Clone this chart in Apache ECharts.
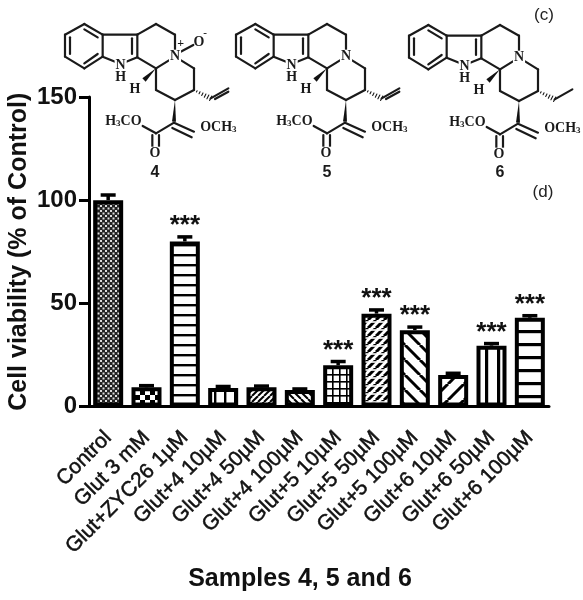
<!DOCTYPE html>
<html><head><meta charset="utf-8">
<style>html,body{margin:0;padding:0;background:#fff}#c{width:583px;height:600px;filter:blur(0.4px)}</style>
<script src="https://cdn.jsdelivr.net/npm/echarts@6/dist/echarts.min.js"></script>
</head><body><div id="c"></div>
<script>
const categories = ['Control','Glut 3 mM','Glut+ZYC26 1µM','Glut+4 10µM','Glut+4 50µM','Glut+4 100µM','Glut+5 10µM','Glut+5 50µM','Glut+5 100µM','Glut+6 10µM','Glut+6 50µM','Glut+6 100µM'];
const viability = [100, 9.3, 80, 9, 9.3, 8, 20, 45, 37, 15.3, 29.5, 43];
const errors = [2.5, 0.8, 2.2, 0.7, 0.6, 0.5, 1.8, 1.8, 1.5, 0.8, 1, 1];
const significance = ['', '', '***', '', '', '', '***', '***', '***', '', '***', '***'];
const patternNames = ['fine','coarse','hLines','vLines','diagA','diagB','grid','diagDash','wideB','wideA','vWide','hWide'];
const compoundNames = ['4','5','6'];
const yTitle = 'Cell viability (% of Control)';
const xTitle = 'Samples 4, 5 and 6';

function tile(w, h, draw){
  const c = document.createElement('canvas'); c.width = w; c.height = h;
  const g = c.getContext('2d'); g.fillStyle = '#fff'; g.fillRect(0,0,w,h);
  g.strokeStyle = '#000'; g.fillStyle = '#000'; draw(g,w,h); return {image:c, repeat:'repeat'};
}
function diag(s, lw, back){
  return tile(s, s, g => { g.lineWidth = lw;
    for (let k=-1;k<=1;k++){ g.beginPath();
      if(back){g.moveTo(k*s,0);g.lineTo(k*s+s,s);} else {g.moveTo(k*s,s);g.lineTo(k*s+s,0);}
      g.stroke(); } });
}
const patterns = {
  fine: tile(5,5,(g)=>{g.fillStyle='#222';g.fillRect(0,0,5,5);g.fillStyle='#ddd';g.fillRect(0,0,2,2);g.fillRect(2.5,2.5,2,2);}),
  coarse: tile(10,10,(g)=>{g.fillRect(0,0,5,5);g.fillRect(5,5,5,5);}),
  hLines: tile(10,10,(g)=>{g.fillRect(0,4,10,2.4);}),
  vLines: tile(10,10,(g)=>{g.fillRect(4,0,2.4,10);}),
  diagA: diag(6,2,false),
  diagB: diag(7,2,true),
  grid: tile(7,7,(g)=>{g.fillRect(3,0,1.6,7);g.fillRect(0,3,7,1.6);}),
  diagDash: tile(8,8,(g)=>{g.lineWidth=3;for(let k=-1;k<=1;k++){g.beginPath();g.moveTo(k*8,8);g.lineTo(k*8+8,0);g.stroke();}
     g.strokeStyle='#fff';g.lineWidth=1.6;g.beginPath();g.moveTo(0,2);g.lineTo(8,2);g.stroke();}),
  wideB: diag(15,3,true),
  wideA: diag(16,3,false),
  vWide: tile(12,12,(g)=>{g.fillRect(5,0,3.2,12);}),
  hWide: tile(13,13,(g)=>{g.fillRect(0,5,13,3.2);})
};

const P = {a:[103,72],b:[158,104],c:[158,170],d:[103,205],e:[45,170],f:[45,104],
  c3:[262,104],c2:[262,172],n1:[212,192],g:[318,72],h:[375,104],n:[375,170],i:[318,205],
  j:[432,205],k:[432,270],l:[375,300],m:[318,270],v1:[482,295],v2:[535,265],
  s:[372,368],t:[318,400],u:[278,378],w:[432,395]};
const bonds = [['a','b'],['b','c'],['c','d'],['d','e'],['e','f'],['f','a'],['b','c3'],['c3','c2'],['c3','g'],['g','h'],['h','n'],
  ['n','i'],['i','c2'],['n','j'],['j','k'],['k','l'],['l','m'],['m','i'],['s','t'],['t','u'],['s','w'],['c','n1'],['n1','c2']];
function structure(ox, oy, kind){
  const out = [];
  const X = x => ox + x/3, Y = y => oy + y/3;
  const seg = (x1,y1,x2,y2,w=2.2) => out.push({type:'line',silent:true,shape:{x1:X(x1),y1:Y(y1),x2:X(x2),y2:Y(y2)},style:{stroke:'#1a1a1a',lineWidth:w,lineCap:'round'}});
  const txt = (x,y,t,size=14,bg) => out.push({type:'text',silent:true,x:X(x),y:Y(y),style:{text:t,fill:'#1a1a1a',align:'center',verticalAlign:'middle',backgroundColor:bg,padding:bg?[0,1,0,1]:0,
     font:'bold '+size+'px "Liberation Serif"',rich:{a:{font:'bold '+size+'px "Liberation Serif"',fill:'#1a1a1a'},s:{font:'bold 9px "Liberation Serif"',fill:'#1a1a1a',padding:[5,0,0,0]}}}});
  const wedge = (x1,y1,x2,y2,hw=7) => { const dx=x2-x1,dy=y2-y1,L=Math.hypot(dx,dy),nx=-dy/L*hw,ny=dx/L*hw;
    out.push({type:'polygon',silent:true,shape:{points:[[X(x1),Y(y1)],[X(x2+nx),Y(y2+ny)],[X(x2-nx),Y(y2-ny)]]},style:{fill:'#111'}}); };
  bonds.forEach(b => seg(P[b[0]][0],P[b[0]][1],P[b[1]][0],P[b[1]][1]));
  seg(60,112,60,162); seg(103,88,143,112); seg(103,190,143,162); seg(246,115,246,162);
  seg(367,384,425,412); seg(307,405,307,440); seg(327,405,327,440);
  wedge(318,205,282,240); wedge(375,300,372,365,6);
  for(let i=1;i<=6;i++){ const f=i/6, x=432+(482-432)*f, y=270+(295-270)*f; const hw=1.5+f*8;
    seg(x-hw*0.35,y+hw*0.7,x+hw*0.35,y-hw*0.7,1.1); }
  seg(482,295,535,265);
  if(kind!=='ethyl') seg(495,297,535,275);
  txt(212,197,'N',14,'#fff'); txt(212,232,'H'); txt(255,268,'H');
  txt(220,364,'{a|H}{s|3}{a|CO}'); txt(505,381,'{a|OCH}{s|3}');
  txt(315,461,'O',14,'#fff');
  if(kind==='oxide'){ seg(392,155,430,135); txt(447,127,'O'); txt(392,133,'+',12); txt(465,100,'-',11); }
  txt(375,170,'N',14,'#fff');
  return out;
}
const structures = [].concat(
  structure(50,0,'oxide'), structure(221,0,'vinyl'), structure(394,1,'ethyl')
);
compoundNames.forEach((n,i)=>structures.push({type:'text',silent:true,x:[155,327,500][i],y:173,
  style:{text:n,font:'bold 16px "Liberation Sans"',fill:'#1a1a1a',align:'center',verticalAlign:'middle'}}));
[['(c)',544,15],['(d)',543,192]].forEach(t=>structures.push({type:'text',silent:true,x:t[1],y:t[2],
  style:{text:t[0],font:'17px "Liberation Sans"',fill:'#222',align:'center',verticalAlign:'middle'}}));

const chart = echarts.init(document.getElementById('c'), null, {renderer:'canvas'});
const axisText = {color:'#111',fontFamily:'Liberation Sans'};
chart.setOption({
  animation:false,
  backgroundColor:'#fff',
  grid:{left:89,right:34,top:97,bottom:193.5,containLabel:false,outerBoundsMode:'none'},
  graphic:structures,
  xAxis:{type:'category',data:categories,
    axisLine:{lineStyle:{color:'#000',width:3}},
    axisTick:{alignWithLabel:true,length:10,lineStyle:{color:'#000',width:3}},
    axisLabel:{...axisText,fontSize:21,rotate:45,margin:28,interval:0,textBorderColor:'#111',textBorderWidth:0.5},
    name:xTitle,nameLocation:'middle',nameGap:160,nameMoveOverlap:false,
    nameTextStyle:{...axisText,fontSize:25,fontWeight:'bold',padding:[0,38,0,0]}},
  yAxis:{type:'value',min:0,max:150,interval:50,splitLine:{show:false},
    axisLine:{show:true,lineStyle:{color:'#000',width:3}},
    axisTick:{show:true,length:10,lineStyle:{color:'#000',width:3}},
    axisLabel:{...axisText,fontSize:24,fontWeight:'bold',margin:12},
    name:yTitle,nameLocation:'middle',nameGap:57,nameMoveOverlap:false,
    nameTextStyle:{...axisText,fontSize:25,fontWeight:'bold'}},
  series:[
    {type:'bar',barWidth:30,silent:true,
     data:viability.map((v,i)=>({value:v,itemStyle:{color:patterns[patternNames[i]],borderColor:'#000',borderWidth:4}}))},
    {type:'custom',silent:true,z:5,
     data:viability.map((v,i)=>[i,v,errors[i],significance[i]]),
     encode:{x:0,y:1},
     renderItem:(params,api)=>{
       const i=api.value(0), v=api.value(1), e=api.value(2), star=significance[i];
       const base=api.coord([i,v]), top=api.coord([i,v+e]);
       const line={stroke:'#000',lineWidth:3.5};
       const kids=[
         {type:'line',shape:{x1:base[0],y1:base[1],x2:top[0],y2:top[1]},style:line},
         {type:'line',shape:{x1:top[0]-7.5,y1:top[1],x2:top[0]+7.5,y2:top[1]},style:line}
       ];
       if(star) kids.push({type:'text',x:top[0],y:top[1]+2,style:{text:star,font:'bold 26px "Liberation Sans"',fill:'#111',align:'center',verticalAlign:'bottom'}});
       return {type:'group',children:kids};
     }}
  ]
});
</script></body></html>
